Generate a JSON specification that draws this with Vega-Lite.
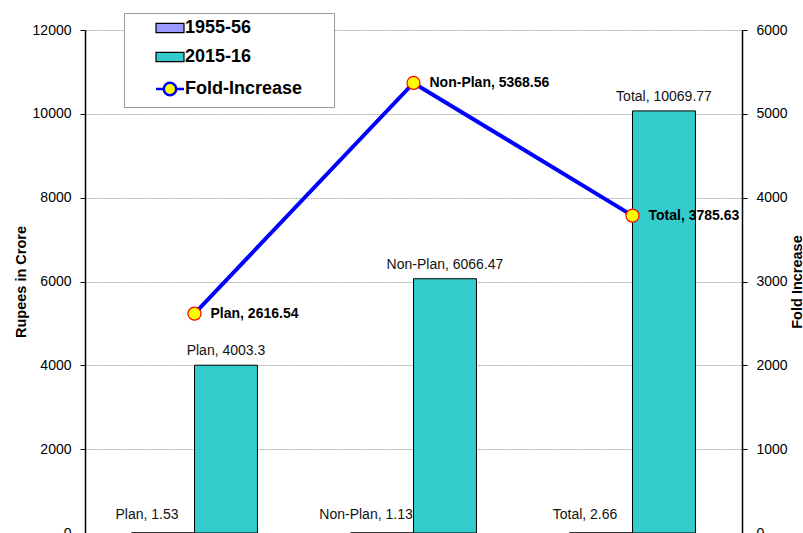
{
  "$schema": "https://vega.github.io/schema/vega-lite/v6.json",
  "autosize": "none",
  "width": 657,
  "height": 503,
  "padding": {"left": 85, "top": 30, "right": 61, "bottom": 0},
  "background": "white",
  "config": {
    "font": "Liberation Sans",
    "view": {"stroke": null},
    "axis": {"labelFont": "Liberation Sans", "titleFont": "Liberation Sans"}
  },
  "datasets": {
    "bars": [
      {"category": "Plan", "year": "1955-56", "value": 1.53, "label": "Plan, 1.53"},
      {"category": "Plan", "year": "2015-16", "value": 4003.3, "label": "Plan, 4003.3"},
      {"category": "Non-Plan", "year": "1955-56", "value": 1.13, "label": "Non-Plan, 1.13"},
      {"category": "Non-Plan", "year": "2015-16", "value": 6066.47, "label": "Non-Plan, 6066.47"},
      {"category": "Total", "year": "1955-56", "value": 2.66, "label": "Total, 2.66"},
      {"category": "Total", "year": "2015-16", "value": 10069.77, "label": "Total, 10069.77"}
    ],
    "fold": [
      {"category": "Plan", "fold": 2616.54, "label": "Plan, 2616.54"},
      {"category": "Non-Plan", "fold": 5368.56, "label": "Non-Plan, 5368.56"},
      {"category": "Total", "fold": 3785.63, "label": "Total, 3785.63"}
    ]
  },
  "encoding": {
    "x": {
      "field": "category",
      "type": "nominal",
      "sort": ["Plan", "Non-Plan", "Total"],
      "scale": {"paddingInner": 0.425, "paddingOuter": 0.2125},
      "axis": null
    }
  },
  "layer": [
    {
      "data": {"name": "bars"},
      "layer": [
        {
          "mark": {"type": "bar", "strokeWidth": 0},
          "encoding": {
            "xOffset": {"field": "year", "type": "nominal", "scale": {"paddingInner": 0, "paddingOuter": 0}},
            "y": {
              "field": "value",
              "type": "quantitative",
              "scale": {"domain": [0, 12000], "nice": false},
              "axis": {
                "title": "Rupees in Crore",
                "values": [0, 2000, 4000, 6000, 8000, 10000, 12000],
                "format": "d",
                "labelFontSize": 14,
                "labelColor": "black",
                "labelPadding": 9,
                "tickSize": 5,
                "tickColor": "black",
                "domainColor": "black",
                "domainWidth": 1.5,
                "grid": true,
                "gridColor": "#ababab",
                "gridDash": [2, 1],
                "gridWidth": 1,
                "titleFontSize": 14.5,
                "titleFontWeight": "bold",
                "titleColor": "black",
                "titlePadding": 4
              }
            },
            "color": {
              "field": "year",
              "type": "nominal",
              "scale": {
                "domain": ["1955-56", "2015-16", "Fold-Increase"],
                "range": ["#9999FF", "#33CCCC", "#FFFF00"]
              },
              "legend": {
                "title": null,
                "orient": "none",
                "legendX": 39,
                "legendY": -17,
                "padding": 6,
                "symbolOffset": 31,
                "strokeColor": "#9a9a9a",
                "fillColor": "white",
                "labelFontSize": 18,
                "labelFontWeight": "bold",
                "labelColor": "black",
                "labelOffset": 6,
                "rowPadding": 11,
                "symbolSize": 400,
                "symbolOpacity": 1,
                "labelExpr": "datum.label + '\u00a0\u00a0\u00a0\u00a0\u00a0\u200b'",
                "symbolType": {"expr": "datum.value === 'Fold-Increase' ? 'M-1.4,0H-0.62M0.62,0H1.4M-0.62,0A0.62,0.62 0 1,1 0.62,0A0.62,0.62 0 1,1 -0.62,0' : 'M-1.4,-0.47H1.4V0.47H-1.4Z'"},
                "symbolStrokeColor": {"expr": "datum.value === 'Fold-Increase' ? '#0000FF' : '#000000'"},
                "symbolStrokeWidth": {"expr": "datum.value === 'Fold-Increase' ? 2.5 : 1.2"}
              }
            }
          }
        },
        {
          "mark": {"type": "bar", "fill": "transparent", "stroke": "black", "strokeWidth": 1},
          "encoding": {
            "xOffset": {"field": "year", "type": "nominal", "scale": {"paddingInner": 0, "paddingOuter": 0}},
            "y": {"field": "value", "type": "quantitative"}
          }
        },
        {
          "transform": [{"filter": "datum.year === '1955-56'"}],
          "mark": {"type": "text", "baseline": "bottom", "dy": -11, "dx": -16, "fontSize": 14, "color": "#111"},
          "encoding": {
            "xOffset": {"field": "year", "type": "nominal", "scale": {"paddingInner": 0, "paddingOuter": 0}},
            "y": {"field": "value", "type": "quantitative"},
            "text": {"field": "label"}
          }
        },
        {
          "transform": [{"filter": "datum.year === '2015-16'"}],
          "mark": {"type": "text", "baseline": "bottom", "dy": -7, "fontSize": 14, "color": "#111"},
          "encoding": {
            "xOffset": {"field": "year", "type": "nominal", "scale": {"paddingInner": 0, "paddingOuter": 0}},
            "y": {"field": "value", "type": "quantitative"},
            "text": {"field": "label"}
          }
        }
      ]
    },
    {
      "data": {"name": "fold"},
      "layer": [
        {
          "mark": {"type": "line", "color": "#0000FF", "strokeWidth": 4},
          "encoding": {
            "y": {
              "field": "fold",
              "type": "quantitative",
              "scale": {"domain": [0, 6000], "nice": false},
              "axis": {
                "orient": "right",
                "title": "Fold Increase",
                "values": [0, 1000, 2000, 3000, 4000, 5000, 6000],
                "format": "d",
                "labelFontSize": 14,
                "labelColor": "black",
                "labelPadding": 9,
                "tickSize": 5,
                "tickColor": "black",
                "domainColor": "black",
                "domainWidth": 1.5,
                "grid": false,
                "titleFontSize": 14.5,
                "titleFontWeight": "bold",
                "titleColor": "black",
                "titleAngle": -90,
                "titleBaseline": "top",
                "titlePadding": 3
              }
            }
          }
        },
        {
          "mark": {"type": "point", "shape": "circle", "filled": true, "fill": "#FFFF00", "stroke": "#FF0000", "strokeWidth": 1.2, "size": 170, "opacity": 1},
          "encoding": {
            "y": {"field": "fold", "type": "quantitative"}
          }
        },
        {
          "mark": {"type": "text", "align": "left", "baseline": "middle", "dx": 16, "fontSize": 14, "fontWeight": "bold", "color": "black"},
          "encoding": {
            "y": {"field": "fold", "type": "quantitative"},
            "text": {"field": "label"}
          }
        }
      ]
    }
  ],
  "resolve": {"scale": {"y": "independent"}}
}
